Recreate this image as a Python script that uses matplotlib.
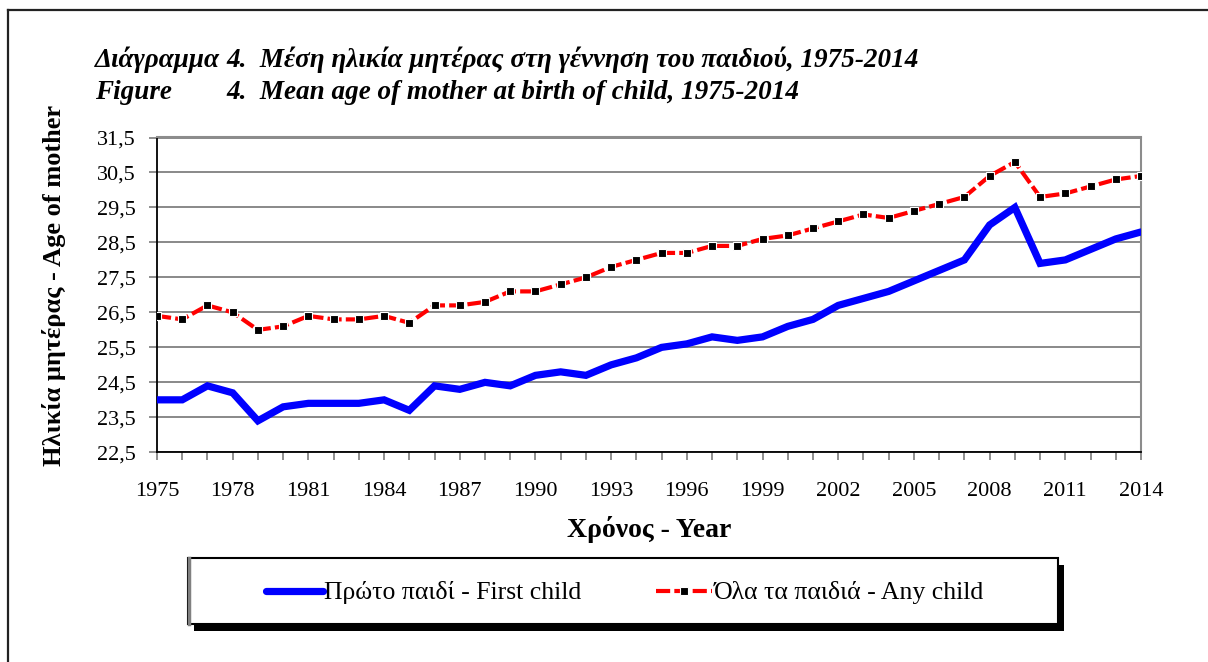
import matplotlib
matplotlib.use("Agg")
import matplotlib.pyplot as plt
from matplotlib.patches import Rectangle
from matplotlib.lines import Line2D

plt.rcParams['font.family'] = ['Liberation Serif', 'DejaVu Serif']

years = list(range(1975, 2015))
first_child = [24.0, 24.0, 24.4, 24.2, 23.4, 23.8, 23.9, 23.9, 23.9, 24.0,
               23.7, 24.4, 24.3, 24.5, 24.4, 24.7, 24.8, 24.7, 25.0, 25.2,
               25.5, 25.6, 25.8, 25.7, 25.8, 26.1, 26.3, 26.7, 26.9, 27.1,
               27.4, 27.7, 28.0, 29.0, 29.5, 27.9, 28.0, 28.3, 28.6, 28.8]
any_child = [26.4, 26.3, 26.7, 26.5, 26.0, 26.1, 26.4, 26.3, 26.3, 26.4,
             26.2, 26.7, 26.7, 26.8, 27.1, 27.1, 27.3, 27.5, 27.8, 28.0,
             28.2, 28.2, 28.4, 28.4, 28.6, 28.7, 28.9, 29.1, 29.3, 29.2,
             29.4, 29.6, 29.8, 30.4, 30.8, 29.8, 29.9, 30.1, 30.3, 30.4]
y_ticks = [22.5, 23.5, 24.5, 25.5, 26.5, 27.5, 28.5, 29.5, 30.5, 31.5]
y_tick_labels = ['22,5', '23,5', '24,5', '25,5', '26,5', '27,5', '28,5', '29,5', '30,5', '31,5']
x_label_years = list(range(1975, 2015, 3))

label_first = 'Πρώτο παιδί - First child'
label_any = 'Όλα τα παιδιά - Any child'
title_gr_a = 'Διάγραμμα '
title_gr_b = '4.  Μέση ηλικία μητέρας στη γέννηση του παιδιού, 1975-2014'
title_en_a = 'Figure'
title_en_b = '4.  Mean age of mother at birth of child, 1975-2014'
ylabel = 'Ηλικία μητέρας - Age of mother'
xlabel = 'Χρόνος - Year'

W, H = 1208, 662
fig = plt.figure(figsize=(W / 100, H / 100), dpi=100)
ax = fig.add_axes([157 / W, 1 - 452.3 / H, (1141 - 157) / W, (452.3 - 137.5) / H])

ax.plot(years, first_child, color='#0000FF', lw=5.2, solid_joinstyle='miter',
        solid_capstyle='round', label=label_first, zorder=3)
ax.plot(years, any_child, color='#FF0000', lw=3.0, dashes=(3.4, 1.0),
        marker='s', markersize=5.2, markerfacecolor='black',
        markeredgecolor='white', markeredgewidth=0.8, label=label_any, zorder=4)

ax.set_xlim(1975, 2014)
ax.set_ylim(22.5, 31.5)
ax.set_yticks(y_ticks)
ax.set_yticklabels(y_tick_labels)
ax.set_xticks(years)
ax.set_xticklabels([str(y) if y in x_label_years else '' for y in years])
ax.grid(axis='y', color='#808080', lw=1.3)
ax.set_axisbelow(True)
for s in ['top', 'right']:
    ax.spines[s].set_color('#8c8c8c')
    ax.spines[s].set_linewidth(1.5)
for s in ['left', 'bottom']:
    ax.spines[s].set_color('black')
    ax.spines[s].set_linewidth(1.3)
ax.tick_params(axis='both', direction='out', length=5.5, width=1.1, color='#707070',
               labelsize=16)
ax.tick_params(axis='y', pad=10)
ax.tick_params(axis='x', pad=16)

ax.set_ylabel(ylabel, fontsize=19, fontweight='bold')
ax.set_xlabel(xlabel, fontsize=20, fontweight='bold', labelpad=11)
ax.yaxis.set_label_coords(-91 / (1141 - 157), (452.3 - 285) / (452.3 - 137.5))

# titles
tkw = dict(fontsize=19.5, fontweight='bold', fontstyle='italic', va='baseline', ha='left')
t1 = fig.text(95 / W, 1 - 67 / H, title_gr_a, **tkw)
renderer = fig.canvas.get_renderer()
x4 = max(t1.get_window_extent(renderer).x1, 204) / W
fig.text(x4, 1 - 67 / H, title_gr_b, **tkw)
fig.text(95 / W, 1 - 99 / H, title_en_a, **tkw)
fig.text(x4, 1 - 99 / H, title_en_b, **tkw)

# outer frame
fig.add_artist(Line2D([8 / W, 1], [1 - 10 / H, 1 - 10 / H], color='#222222', lw=1.6,
                      transform=fig.transFigure))
fig.add_artist(Line2D([8 / W, 8 / W], [0, 1 - 10 / H], color='#222222', lw=1.6,
                      transform=fig.transFigure))

# legend box with shadow
bx0, bx1, by0, by1 = 188, 1058, 558, 624
fig.add_artist(Rectangle(((bx0 + 6) / W, 1 - (by1 + 7) / H), (bx1 - bx0) / W, (by1 - by0) / H,
                         transform=fig.transFigure, facecolor='black', edgecolor='none', zorder=1))
fig.add_artist(Rectangle((bx0 / W, 1 - by1 / H), (bx1 - bx0) / W, (by1 - by0) / H,
                         transform=fig.transFigure, facecolor='white', edgecolor='black',
                         lw=1.5, zorder=2))
fig.add_artist(Line2D([(bx0 + 1) / W, (bx0 + 1) / W], [1 - by1 / H, 1 - by0 / H], color='#808080',
                      lw=2.5, transform=fig.transFigure, zorder=3))

handles, labels = ax.get_legend_handles_labels()
leg = fig.legend(handles, labels, loc='center', bbox_to_anchor=(625 / W, 1 - 593 / H),
                 ncol=2, frameon=False, fontsize=18.5, handlelength=2.2,
                 handletextpad=0.05, columnspacing=2.9, numpoints=1)
leg.set_zorder(5)

fig.savefig('out.png', dpi=100)
